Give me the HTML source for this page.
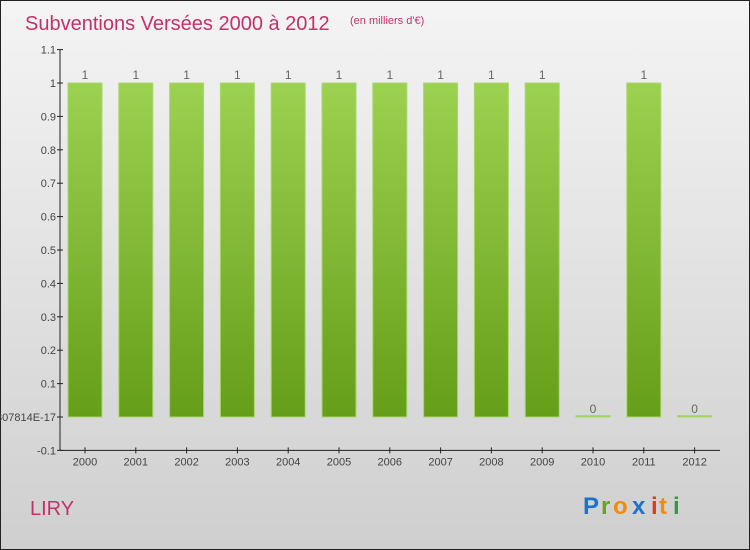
<!DOCTYPE html>
<html><head><meta charset="utf-8"><style>
body{margin:0;width:750px;height:550px;overflow:hidden;font-family:"Liberation Sans",sans-serif}
#c{position:absolute;left:0;top:0;width:748px;height:548px;border:1px solid #222;background:linear-gradient(#f4f4f4,#cfcfcf)}
</style></head><body>
<div id="c">
<svg id="s" width="750" height="550" style="position:absolute;left:-1px;top:-1px">
<defs><linearGradient id="g" x1="0" y1="0" x2="0" y2="1"><stop offset="0" stop-color="#9dd151"/><stop offset="1" stop-color="#659e18"/></linearGradient></defs>
<text x="25" y="30" font-size="20" fill="#c2316b">Subventions Versées 2000 à 2012</text>
<text x="350" y="24" font-size="11" fill="#c2316b">(en milliers d'€)</text>
<text x="30" y="515" font-size="20" fill="#c2316b">LIRY</text>
<g font-size="24" font-weight="bold"><text x="583" y="514" fill="#1a74c9">P</text><text x="601" y="514" fill="#62a51e">r</text><text x="613" y="514" fill="#f38a0c">o</text><text x="632" y="514" fill="#1a74c9">x</text><text x="651" y="514" fill="#e03a1e">i</text><text x="659" y="514" fill="#f38a0c">t</text><text x="673" y="514" fill="#2d9d3c">i</text></g>
<g id="plot"></g>
</svg></div>
<script>
const years=["2000","2001","2002","2003","2004","2005","2006","2007","2008","2009","2010","2011","2012"];
const values=[1,1,1,1,1,1,1,1,1,1,0,1,0];
const yTicks=[-0.1,0,0.1,0.2,0.3,0.4,0.5,0.6,0.7,0.8,0.9,1,1.1];
const yTickLabels=["-0.1","1.3877787807814E-17","0.1","0.2","0.3","0.4","0.5","0.6","0.7","0.8","0.9","1","1.1"];
const NS="http://www.w3.org/2000/svg",p=document.getElementById('plot');
const y=v=>417-(v)*334, x=i=>85+i*50.8;
function el(t,a,txt){const e=document.createElementNS(NS,t);for(const k in a)e.setAttribute(k,a[k]);if(txt!==undefined)e.textContent=txt;p.appendChild(e);return e;}
let ax=el('line',{x1:60,y1:y(1.1),x2:60,y2:y(-0.1),stroke:'#222'});

let bx=el('line',{x1:60,y1:y(-0.1),x2:720,y2:y(-0.1),stroke:'#222'});

yTicks.forEach((v,i)=>{
 el('line',{x1:57,x2:63,y1:y(v),y2:y(v),stroke:'#222'});
 let t=el('text',{x:56,y:y(v)+4,'text-anchor':'end','font-size':11,fill:'#444'},yTickLabels[i]);
 
});
years.forEach((yr,i)=>{
 const v=values[i];
 el('line',{x1:x(i),x2:x(i),y1:y(-0.1)-3,y2:y(-0.1)+3,stroke:'#222'});
 let t=el('text',{x:x(i),y:y(-0.1)+15,'text-anchor':'middle','font-size':11,fill:'#444'},yr);
 
 const h=Math.max(y(0)-y(v),1.5);
 let b=el('rect',{x:x(i)-17,y:y(0)-h,width:34,height:h,fill:v>0?'url(#g)':'#9dd151',stroke:'#a8d86a','stroke-width':1});
 
 let l=el('text',{x:x(i),y:y(v)-4,'text-anchor':'middle','font-size':12,fill:'#666'},String(v));
 
});
</script>
</body></html>
